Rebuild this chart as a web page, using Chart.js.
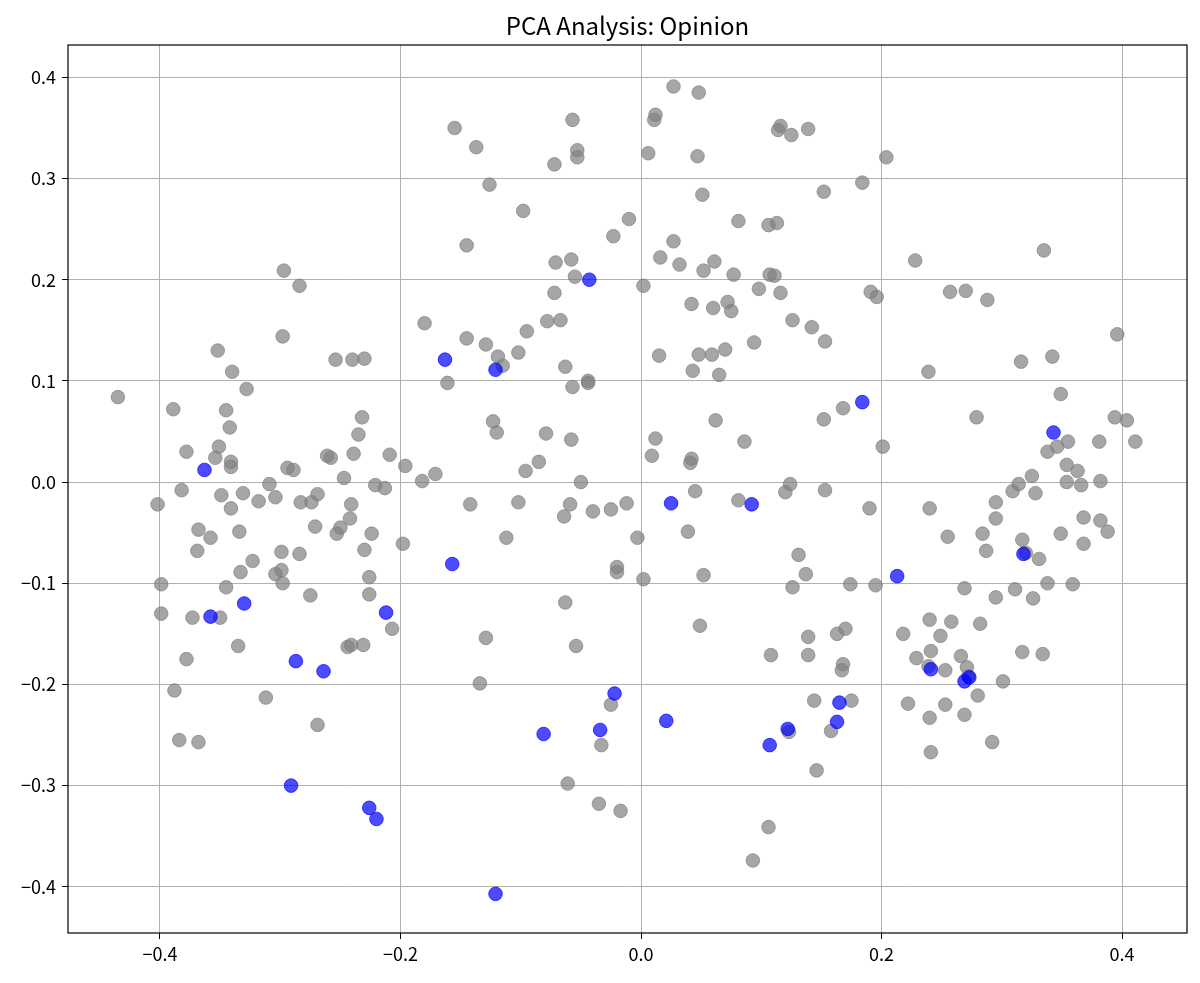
<!DOCTYPE html>
<html>
<head>
<meta charset="utf-8">
<script src="https://cdn.jsdelivr.net/npm/chart.js@4/dist/chart.umd.min.js"></script>
<style>
  body { margin: 0; background: #fff; }
  canvas { display: block; }
</style>
</head>
<body>
<canvas id="pca_chart" width="1200" height="983"></canvas>
<script>
// chart data
const chart_title = "PCA Analysis: Opinion";
const x_ticks = [-0.4, -0.2, 0.0, 0.2, 0.4];
const y_ticks = [-0.4, -0.3, -0.2, -0.1, 0.0, 0.1, 0.2, 0.3, 0.4];

const gray_x = [
  -0.297, -0.284, -0.298, -0.352,
  -0.057, -0.155, -0.137, -0.053, -0.053, -0.072, -0.126, -0.098, -0.010, -0.023, -0.145, -0.071, -0.058, -0.055, -0.072, -0.078, -0.067, -0.180, -0.095, -0.145, -0.129,
  0.027, 0.048, 0.012, 0.011, 0.116, 0.114, 0.125, 0.139, 0.006, 0.047, 0.204, 0.184, 0.152, 0.051, 0.081, 0.106, 0.113, 0.027, 0.016, 0.032, 0.061, 0.052, 0.077, 0.107, 0.111, 0.002, 0.098, 0.116, 0.191, 0.196, 0.042, 0.060, 0.072, 0.075, 0.126, 0.142, 0.153, 0.094, 0.070,
  0.335, 0.228, 0.257, 0.270, 0.288, 0.396,
  -0.254, -0.240, -0.230, -0.340, -0.435, -0.328, -0.389, -0.345, -0.342, -0.378, -0.351, -0.354, -0.341, -0.341, -0.294, -0.289, -0.261, -0.258, -0.247, -0.382, -0.402, -0.349, -0.331, -0.309, -0.318, -0.304, -0.341, -0.283, -0.274, -0.269, -0.241, -0.242, -0.368, -0.358, -0.334, -0.271, -0.250, -0.253, -0.369, -0.299, -0.284, -0.323, -0.333, -0.304, -0.299, -0.298, -0.399, -0.345, -0.275, -0.399, -0.373, -0.350, -0.335, -0.244,
  -0.102, -0.119, -0.115, -0.063, -0.161, -0.057, -0.044, -0.044, -0.232, -0.235, -0.123, -0.120, -0.079, -0.058, -0.239, -0.209, -0.196, -0.085, -0.096, -0.171, -0.182, -0.221, -0.213, -0.050, -0.142, -0.102, -0.059, -0.064, -0.040, -0.025, -0.012, -0.224, -0.230, -0.198, -0.112, -0.020, -0.020, -0.226, -0.226, -0.063, -0.207, -0.129, -0.241, -0.231, -0.054,
  0.015, 0.048, 0.059, 0.043, 0.065, 0.168, 0.152, 0.062, 0.012, 0.086, 0.201, 0.009, 0.042, 0.041, 0.124, 0.120, 0.153, 0.045, 0.081, 0.190, -0.003, 0.039, 0.131, 0.137, 0.052, 0.002, 0.126, 0.174, 0.195, 0.049, 0.139, 0.163, 0.170, 0.218,
  0.239, 0.316, 0.342, 0.349, 0.279, 0.394, 0.404, 0.355, 0.381, 0.411, 0.346, 0.338, 0.354, 0.363, 0.325, 0.314, 0.309, 0.328, 0.354, 0.366, 0.382, 0.240, 0.295, 0.295, 0.368, 0.382, 0.388, 0.255, 0.284, 0.287, 0.317, 0.349, 0.368, 0.320, 0.331, 0.338, 0.359, 0.269, 0.311, 0.295, 0.326, 0.240, 0.258, 0.282, 0.249,
  0.241, 0.229, 0.266, 0.317, 0.334, 0.239, 0.253, 0.271, 0.272, 0.301, 0.222, 0.253, 0.240, 0.269, 0.280, 0.292, 0.241,
  -0.378, -0.388, -0.312, -0.269, -0.384, -0.368,
  -0.134, -0.025, -0.033, -0.061, -0.035, -0.017,
  0.108, 0.139, 0.168, 0.167, 0.144, 0.175, 0.123, 0.158, 0.146, 0.106, 0.093
];
const gray_y = [
  0.209, 0.194, 0.144, 0.130,
  0.358, 0.350, 0.331, 0.328, 0.321, 0.314, 0.294, 0.268, 0.260, 0.243, 0.234, 0.217, 0.220, 0.203, 0.187, 0.159, 0.160, 0.157, 0.149, 0.142, 0.136,
  0.391, 0.385, 0.363, 0.358, 0.352, 0.348, 0.343, 0.349, 0.325, 0.322, 0.321, 0.296, 0.287, 0.284, 0.258, 0.254, 0.256, 0.238, 0.222, 0.215, 0.218, 0.209, 0.205, 0.205, 0.204, 0.194, 0.191, 0.187, 0.188, 0.183, 0.176, 0.172, 0.178, 0.169, 0.160, 0.153, 0.139, 0.138, 0.131,
  0.229, 0.219, 0.188, 0.189, 0.180, 0.146,
  0.121, 0.121, 0.122, 0.109, 0.084, 0.092, 0.072, 0.071, 0.054, 0.030, 0.035, 0.024, 0.020, 0.015, 0.014, 0.012, 0.026, 0.024, 0.004, -0.008, -0.022, -0.013, -0.011, -0.002, -0.019, -0.015, -0.026, -0.020, -0.020, -0.012, -0.022, -0.036, -0.047, -0.055, -0.049, -0.044, -0.045, -0.051, -0.068, -0.069, -0.071, -0.078, -0.089, -0.091, -0.087, -0.100, -0.101, -0.104, -0.112, -0.130, -0.134, -0.134, -0.162, -0.163,
  0.128, 0.124, 0.115, 0.114, 0.098, 0.094, 0.100, 0.098, 0.064, 0.047, 0.060, 0.049, 0.048, 0.042, 0.028, 0.027, 0.016, 0.020, 0.011, 0.008, 0.001, -0.003, -0.006, 0.000, -0.022, -0.020, -0.022, -0.034, -0.029, -0.027, -0.021, -0.051, -0.067, -0.061, -0.055, -0.084, -0.089, -0.094, -0.111, -0.119, -0.145, -0.154, -0.161, -0.161, -0.162,
  0.125, 0.126, 0.126, 0.110, 0.106, 0.073, 0.062, 0.061, 0.043, 0.040, 0.035, 0.026, 0.023, 0.019, -0.002, -0.010, -0.008, -0.009, -0.018, -0.026, -0.055, -0.049, -0.072, -0.091, -0.092, -0.096, -0.104, -0.101, -0.102, -0.142, -0.153, -0.150, -0.145, -0.150,
  0.109, 0.119, 0.124, 0.087, 0.064, 0.064, 0.061, 0.040, 0.040, 0.040, 0.035, 0.030, 0.017, 0.011, 0.006, -0.002, -0.009, -0.011, 0.000, -0.003, 0.001, -0.026, -0.020, -0.036, -0.035, -0.038, -0.049, -0.054, -0.051, -0.068, -0.057, -0.051, -0.061, -0.070, -0.076, -0.100, -0.101, -0.105, -0.106, -0.114, -0.115, -0.136, -0.138, -0.140, -0.152,
  -0.167, -0.174, -0.172, -0.168, -0.170, -0.182, -0.186, -0.183, -0.192, -0.197, -0.219, -0.220, -0.233, -0.230, -0.211, -0.257, -0.267,
  -0.175, -0.206, -0.213, -0.240, -0.255, -0.257,
  -0.199, -0.220, -0.260, -0.298, -0.318, -0.325,
  -0.171, -0.171, -0.180, -0.186, -0.216, -0.216, -0.247, -0.246, -0.285, -0.341, -0.374
];

const blue_x = [
  -0.043, -0.363, -0.330, -0.358, -0.163, -0.121, -0.157, -0.212, 0.184, 0.025, 0.092, 0.213, 0.343, 0.318, 0.241, 0.269,
  0.273, -0.287, -0.264, -0.291, -0.022, -0.081, -0.034, -0.226, -0.220, -0.121, 0.165, 0.021, 0.163, 0.122, 0.107
];
const blue_y = [
  0.200, 0.012, -0.120, -0.133, 0.121, 0.111, -0.081, -0.129, 0.079, -0.021, -0.022, -0.093, 0.049, -0.071, -0.185, -0.197,
  -0.193, -0.177, -0.187, -0.300, -0.209, -0.249, -0.245, -0.322, -0.333, -0.407, -0.218, -0.236, -0.237, -0.244, -0.260
];

function toPoints(xs, ys) {
  return xs.map((x, i) => ({ x: x, y: ys[i] }));
}

// matplotlib style minus sign
function fmtTick(v) {
  return v.toFixed(1).replace("-", "\u2212");
}

const font_family = "'Noto Sans CJK SC', 'Noto Sans', sans-serif";

// box round the plot area + title centred over the plot area
const frame_plugin = {
  id: "frame",
  afterDraw(chart) {
    const a = chart.chartArea;
    const c = chart.ctx;
    c.save();
    c.strokeStyle = "#000";
    c.lineWidth = 1.2;
    c.strokeRect(a.left, a.top, a.right - a.left, a.bottom - a.top);
    c.fillStyle = "#000";
    c.font = "24px " + font_family;
    c.textAlign = "center";
    c.textBaseline = "alphabetic";
    c.fillText(chart_title, (a.left + a.right) / 2, 35);
    c.restore();
  },
};

const ctx = document.getElementById("pca_chart").getContext("2d");

new Chart(ctx, {
  type: "scatter",
  data: {
    datasets: [
      {
        label: "blue",
        data: toPoints(blue_x, blue_y),
        backgroundColor: "rgba(0,0,255,0.7)",
        borderColor: "rgba(0,0,255,0.7)",
        borderWidth: 1,
        pointRadius: 6.8,
      },
      {
        label: "gray",
        data: toPoints(gray_x, gray_y),
        backgroundColor: "rgba(128,128,128,0.7)",
        borderColor: "rgba(128,128,128,0.7)",
        borderWidth: 1,
        pointRadius: 6.8,
      },
    ],
  },
  options: {
    responsive: false,
    animation: false,
    devicePixelRatio: 1,
    layout: { padding: { top: 45, left: 0, right: 13, bottom: 0 } },
    plugins: {
      legend: { display: false },
      tooltip: { enabled: false },
      title: { display: false },
    },
    scales: {
      x: {
        type: "linear",
        min: -0.4765,
        max: 0.454,
        afterBuildTicks: (scale) => { scale.ticks = x_ticks.map((v) => ({ value: v })); },
        afterFit: (scale) => { scale.height = 50; },
        grid: { color: "#b0b0b0", lineWidth: 1, tickColor: "#000", tickLength: 6 },
        border: { display: false },
        ticks: {
          color: "#000",
          padding: 4,
          font: { family: font_family, size: 18 },
          callback: (v) => fmtTick(v),
        },
      },
      y: {
        type: "linear",
        min: -0.4457,
        max: 0.432,
        afterBuildTicks: (scale) => { scale.ticks = y_ticks.map((v) => ({ value: v })); },
        afterFit: (scale) => { scale.width = 68; },
        grid: { color: "#b0b0b0", lineWidth: 1, tickColor: "#000", tickLength: 6 },
        border: { display: false },
        ticks: {
          color: "#000",
          padding: 6,
          font: { family: font_family, size: 18 },
          callback: (v) => fmtTick(v),
        },
      },
    },
  },
  plugins: [frame_plugin],
});
</script>
</body>
</html>
